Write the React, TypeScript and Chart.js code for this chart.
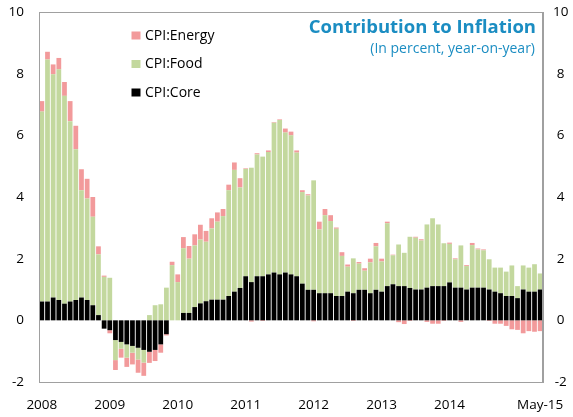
import React, { useEffect, useRef } from "react";
import { Chart, registerables } from "chart.js";

Chart.register(...registerables);

const years = ["08", "09", "10", "11", "12", "13", "14", "15"];
const monthNames = ["Jan", "Feb", "Mar", "Apr", "May", "Jun", "Jul", "Aug", "Sep", "Oct", "Nov", "Dec"];
const monthCount = 89;
const categories: string[] = [];
for (let i = 0; i < monthCount; i++) {
  categories.push(monthNames[i % 12] + "-" + years[Math.floor(i / 12)]);
}
const xTickLabels = ["2008", "2009", "2010", "2011", "2012", "2013", "2014", "May-15"];

const core = [
  0.61, 0.61, 0.74, 0.66, 0.54, 0.61, 0.66, 0.74, 0.66, 0.49, 0.17, -0.27,
  -0.32, -0.64, -0.7, -0.78, -0.83, -0.89, -0.96, -1.02, -0.96, -0.78, -0.45, 0.0,
  0.0, 0.24, 0.24, 0.43, 0.55, 0.62, 0.67, 0.67, 0.67, 0.79, 0.93, 1.05,
  1.43, 1.24, 1.43, 1.43, 1.49, 1.55, 1.49, 1.55, 1.49, 1.43, 1.19, 0.99,
  0.99, 0.88, 0.88, 0.88, 0.79, 0.79, 0.93, 0.88, 0.99, 0.99, 0.88, 0.99,
  0.93, 1.11, 1.17, 1.11, 1.11, 1.05, 1.0, 1.0, 1.06, 1.11, 1.11, 1.11,
  1.23, 1.06, 1.06, 1.0, 1.06, 1.06, 1.06, 1.0, 0.93, 0.88, 0.79, 0.79,
  0.72, 1.0, 0.93, 0.93, 1.0,
];

const food = [
  6.16, 7.85, 7.24, 7.48, 6.74, 5.85, 4.89, 3.48, 3.29, 2.87, 1.97, 1.41,
  1.38, -0.65, -0.22, -0.43, -0.22, -0.38, -0.41, 0.17, 0.49, 0.52, 1.06, 1.79,
  1.24, 2.1, 1.76, 2.0, 2.07, 1.93, 2.31, 2.53, 2.71, 3.43, 3.95, 3.26,
  3.48, 3.71, 3.95, 3.88, 3.97, 4.86, 5.01, 4.54, 4.51, 4.01, 2.97, 3.06,
  3.55, 2.07, 2.53, 2.34, 2.18, 1.3, 0.81, 1.13, 0.85, 0.62, 1.0, 1.41,
  0.98, 2.04, 0.94, 1.35, 1.08, 1.66, 1.68, 1.59, 2.05, 2.2, 2.0, 1.39,
  1.25, 0.92, 1.37, 0.76, 1.38, 1.24, 1.21, 0.98, 0.78, 0.83, 0.79, 0.99,
  0.39, 0.78, 0.78, 0.89, 0.52,
];

const energy = [
  0.34, 0.25, 0.32, 0.37, 0.45, 0.65, 0.76, 0.68, 0.64, 0.64, 0.26, 0.04,
  -0.1, -0.32, -0.29, -0.3, -0.38, -0.43, -0.43, -0.36, -0.36, -0.27, -0.04, 0.11,
  0.25, 0.36, 0.41, 0.36, 0.48, 0.35, 0.33, 0.3, 0.23, 0.18, 0.24, 0.3,
  0.02, -0.04, 0.04, -0.02, 0.05, 0.02, 0.02, 0.13, 0.12, 0.07, 0.06, 0.04,
  -0.03, 0.25, 0.2, 0.19, 0.04, 0.12, 0.07, -0.02, 0.05, 0.08, 0.12, 0.11,
  0.09, 0.05, 0.02, -0.06, -0.12, -0.02, 0.03, 0.04, -0.05, -0.11, -0.11, -0.02,
  0.04, 0.03, -0.05, 0.03, 0.07, 0.03, 0.03, -0.02, -0.11, -0.11, -0.18, -0.29,
  -0.31, -0.42, -0.35, -0.37, -0.35,
];

const yTicks = [-2, 0, 2, 4, 6, 8, 10];
const titleText = "Contribution to Inflation";
const subtitleText = "(In percent, year-on-year)";
const seriesNames = ["CPI:Core", "CPI:Food", "CPI:Energy"];
const seriesColors = ["#000000", "#C3D89E", "#F29A9B"];

const FONT = "'Open Sans', 'Noto Sans', sans-serif";
const FRAME = "#A0A0A0";

export default function App() {
  const ref = useRef<HTMLCanvasElement | null>(null);

  useEffect(() => {
    document.body.style.margin = "0";
    if (!ref.current) return;

    const framePlugin = {
      id: "framePlugin",
      afterDatasetsDraw(chart: any) {
        const { ctx, chartArea } = chart;
        const l = Math.round(chartArea.left);
        const r = Math.round(chartArea.right);
        const t = Math.round(chartArea.top);
        const b = Math.round(chartArea.bottom);
        ctx.save();
        ctx.fillStyle = FRAME;
        ctx.fillRect(l, t, r - l, 1);
        ctx.fillRect(l, b, r - l, 1);
        ctx.fillRect(l, t, 1, b - t + 1);
        ctx.fillRect(r - 1, t, 1, b - t + 1);
        ctx.restore();
      },
      afterDraw(chart: any) {
        const { ctx } = chart;
        ctx.save();
        // title
        ctx.fillStyle = "#1B8DC2";
        ctx.textAlign = "right";
        ctx.textBaseline = "alphabetic";
        ctx.font = "bold 18.5px " + FONT;
        ctx.fillText(titleText, 536, 33);
        ctx.font = "14px " + FONT;
        ctx.fillText(subtitleText, 535, 53);
        // legend (top to bottom: Energy, Food, Core)
        ctx.textAlign = "left";
        ctx.textBaseline = "middle";
        ctx.font = "14px " + FONT;
        const order = [2, 1, 0];
        order.forEach((di, k) => {
          const ds = chart.data.datasets[di];
          const cy = 35.5 + k * 28.5;
          ctx.fillStyle = ds.backgroundColor;
          ctx.fillRect(131.5, cy - 4, 9, 8);
          ctx.fillStyle = "#000";
          ctx.fillText(ds.label, 145, cy + 0.5);
        });
        ctx.restore();
      },
    };

    const zeroPad = (s: any) => {
      s.paddingLeft = 0;
      s.paddingRight = 0;
      s.paddingTop = 0;
      s.paddingBottom = 0;
    };

    const chart = new Chart(ref.current, {
      type: "bar",
      data: {
        labels: categories,
        datasets: [core, food, energy].map((d, i) => ({
          label: seriesNames[i],
          data: d,
          backgroundColor: seriesColors[i],
          borderWidth: 0,
          barPercentage: 0.84,
          categoryPercentage: 1.0,
          stack: "s",
        })),
      },
      options: {
        responsive: false,
        animation: false,
        events: [],
        layout: { padding: { left: 0, right: 0, top: 12, bottom: 0 } },
        plugins: {
          legend: { display: false },
          tooltip: { enabled: false },
          title: { display: false },
        },
        scales: {
          x: {
            type: "category",
            stacked: true,
            grid: { display: false, drawTicks: false },
            border: { display: true, color: FRAME, width: 1 },
            ticks: {
              autoSkip: false,
              maxRotation: 0,
              minRotation: 0,
              padding: 15,
              color: "#000",
              font: { family: FONT, size: 13.5 },
              callback: (_v: any, i: number) => {
                if (i === monthCount - 1) return xTickLabels[xTickLabels.length - 1];
                if (i % 12 === 0 && i / 12 < xTickLabels.length - 1) return xTickLabels[i / 12];
                return "";
              },
            },
            afterFit: (s: any) => {
              s.height = 35;
              zeroPad(s);
            },
          },
          y: {
            type: "linear",
            position: "left",
            stacked: true,
            min: -2,
            max: 10,
            afterBuildTicks: (s: any) => {
              s.ticks = yTicks.map((v) => ({ value: v }));
            },
            grid: { display: false, drawTicks: false },
            border: { display: true, color: FRAME, width: 1 },
            ticks: {
              padding: 15,
              color: "#000",
              font: { family: FONT, size: 13.5 },
            },
            afterFit: (s: any) => {
              s.width = 39;
              zeroPad(s);
            },
          },
          y2: {
            type: "linear",
            position: "right",
            min: -2,
            max: 10,
            afterBuildTicks: (s: any) => {
              s.ticks = yTicks.map((v) => ({ value: v }));
            },
            grid: { display: false, drawTicks: false },
            border: { display: true, color: FRAME, width: 1 },
            ticks: {
              padding: 10,
              crossAlign: "center",
              color: "#000",
              font: { family: FONT, size: 13.5 },
            },
            afterFit: (s: any) => {
              s.width = 30;
              zeroPad(s);
            },
          },
        },
      },
      plugins: [framePlugin],
    } as any);

    return () => chart.destroy();
  }, []);

  return (
    <div style={{ width: 573, height: 417, background: "#fff" }}>
      <canvas ref={ref} width={573} height={417} style={{ display: "block" }} />
    </div>
  );
}
